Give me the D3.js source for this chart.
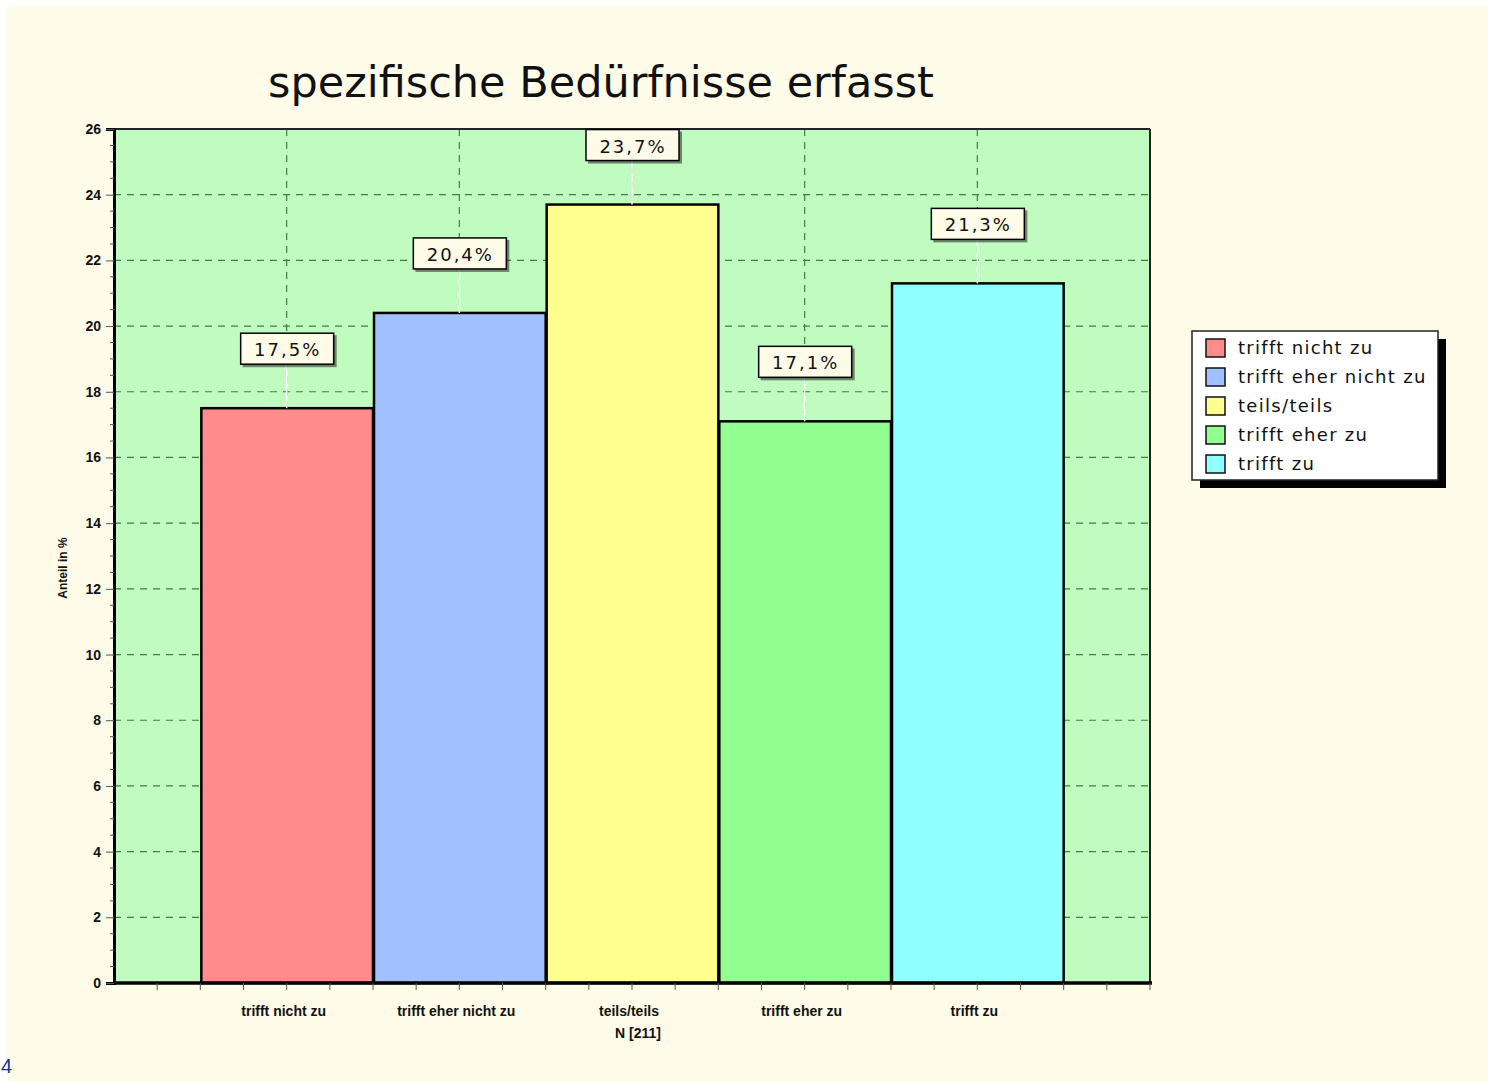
<!DOCTYPE html>
<html><head><meta charset="utf-8">
<script src="https://cdn.jsdelivr.net/npm/d3@7"></script>
<style>
html,body{margin:0;padding:0;background:#ffffff;}
svg{display:block;}
</style></head>
<body>
<script>
const title = "spezifische Bedürfnisse erfasst";
const categories = ["trifft nicht zu","trifft eher nicht zu","teils/teils","trifft eher zu","trifft zu"];
const values = [17.5, 20.4, 23.7, 17.1, 21.3];
const labels = ["17,5%","20,4%","23,7%","17,1%","21,3%"];
const colors = ["#ff8c8c","#a0c0ff","#ffff90","#90ff90","#90ffff"];
const yTicks = [0,2,4,6,8,10,12,14,16,18,20,22,24,26];
const yLabel = "Anteil in %";
const nLabel = "N [211]";

const W = 1488, H = 1081;
const m = {left:114, right:1150, top:129, bottom:983};

const svg = d3.select("body").append("svg").attr("width",W).attr("height",H);
svg.append("rect").attr("x",7).attr("y",6).attr("width",W-7).attr("height",H-6).attr("fill","#fefce9");

const x = d3.scaleBand().domain(categories).range([m.left,m.right]).paddingInner(0).paddingOuter(0.5);
const y = d3.scaleLinear().domain([0,26]).range([m.bottom,m.top]);

// plot bg
svg.append("rect").attr("x",m.left).attr("y",m.top).attr("width",m.right-m.left).attr("height",m.bottom-m.top).attr("fill","#c0fcc0");

// gridlines
const g = svg.append("g");
g.selectAll("line.h").data(yTicks.filter(d=>d>0)).join("line")
 .attr("x1",m.left).attr("x2",m.right).attr("y1",d=>y(d)).attr("y2",d=>y(d))
 .attr("stroke","#3f7f3f").attr("stroke-width",1.2).attr("stroke-dasharray","7,6");
g.selectAll("line.v").data(categories).join("line")
 .attr("x1",d=>x(d)+x.bandwidth()/2).attr("x2",d=>x(d)+x.bandwidth()/2)
 .attr("y1",m.top).attr("y2",m.bottom)
 .attr("stroke","#3f7f3f").attr("stroke-width",1.2).attr("stroke-dasharray","7,6");

// bars
svg.selectAll("rect.bar").data(values).join("rect")
 .attr("x",(d,i)=>x(categories[i])+1).attr("width",x.bandwidth()-1)
 .attr("y",d=>y(d)).attr("height",d=>m.bottom-y(d))
 .attr("fill",(d,i)=>colors[i]).attr("stroke","#000").attr("stroke-width",2.5);

// plot border top/right
svg.append("line").attr("x1",m.left).attr("x2",m.right).attr("y1",m.top).attr("y2",m.top).attr("stroke","#222").attr("stroke-width",2);
svg.append("line").attr("x1",m.right).attr("x2",m.right).attr("y1",m.top).attr("y2",m.bottom).attr("stroke","#222").attr("stroke-width",2);

// y axis
const yAxis = d3.axisLeft(y).tickValues(yTicks).tickSize(8).tickPadding(5);
const ya = svg.append("g").attr("transform",`translate(${m.left},0)`).call(yAxis);
ya.select(".domain").attr("stroke","#000").attr("stroke-width",3);
ya.selectAll(".tick line").attr("stroke","#555");
ya.selectAll(".tick text").attr("font-family","Liberation Sans, Arial, sans-serif").attr("font-size",14).attr("font-weight","bold").attr("fill","#111");
// minor y ticks
const minorY = d3.range(0,26.01,0.5).filter(v=>v%2!==0);
svg.append("g").selectAll("line").data(minorY).join("line")
 .attr("x1",m.left-4).attr("x2",m.left).attr("y1",d=>y(d)).attr("y2",d=>y(d)).attr("stroke","#555");

// x axis
svg.append("line").attr("x1",m.left).attr("x2",m.right+2).attr("y1",m.bottom).attr("y2",m.bottom).attr("stroke","#000").attr("stroke-width",3.5);
const step = x.step()/4;
const xt = d3.range(m.left+step, m.right, step);
svg.append("g").selectAll("line").data(xt).join("line")
 .attr("x1",d=>d).attr("x2",d=>d).attr("y1",m.bottom).attr("y2",m.bottom+7).attr("stroke","#555");

svg.append("g").selectAll("text").data(categories).join("text")
 .attr("x",d=>x(d)+x.bandwidth()/2 - 3).attr("y",1016)
 .attr("text-anchor","middle").attr("font-family","Liberation Sans, Arial, sans-serif")
 .attr("font-size",14).attr("font-weight","bold").attr("fill","#111").text(d=>d);
svg.append("text").attr("x",x(categories[2])+x.bandwidth()/2+6).attr("y",1038)
 .attr("text-anchor","middle").attr("font-family","Liberation Sans, Arial, sans-serif")
 .attr("font-size",14).attr("font-weight","bold").attr("fill","#111").text(nLabel);

// y label
svg.append("text").attr("transform",`translate(67,568) rotate(-90)`).attr("text-anchor","middle")
 .attr("font-family","Liberation Sans, Arial, sans-serif").attr("font-size",12).attr("font-weight","bold").attr("fill","#111").text(yLabel);

// value labels
const lab = svg.append("g").selectAll("g").data(values).join("g")
 .attr("transform",(d,i)=>`translate(${x(categories[i])+x.bandwidth()/2},${y(d)})`);
lab.append("line").attr("x1",0).attr("x2",0).attr("y1",0).attr("y2",-44).attr("stroke","#ffffff").attr("stroke-width",1.5);
lab.append("rect").attr("x",-44).attr("y",-73).attr("width",94).attr("height",32).attr("fill","#333").attr("opacity",0.6);
lab.append("rect").attr("x",-46).attr("y",-75).attr("width",93).attr("height",31).attr("fill","#fefce9").attr("stroke","#000").attr("stroke-width",1.5);
lab.append("text").attr("x",1).attr("y",-52).attr("text-anchor","middle")
 .attr("font-family","DejaVu Sans, Verdana, sans-serif").attr("font-size",18).attr("letter-spacing",2).attr("fill","#111")
 .text((d,i)=>labels[i]);

// title
svg.append("text").attr("x",601).attr("y",97).attr("text-anchor","middle")
 .attr("font-family","DejaVu Sans, Verdana, sans-serif").attr("font-size",43).attr("fill","#111").text(title);

// legend
const L = {x:1192,y:331,w:246,h:149};
svg.append("rect").attr("x",L.x+8).attr("y",L.y+8).attr("width",L.w).attr("height",L.h).attr("fill","#000");
svg.append("rect").attr("x",L.x).attr("y",L.y).attr("width",L.w).attr("height",L.h).attr("fill","#fff").attr("stroke","#222").attr("stroke-width",1.5);
const li = svg.append("g").selectAll("g").data(categories).join("g")
 .attr("transform",(d,i)=>`translate(${L.x+14},${L.y+8+i*29})`);
li.append("rect").attr("width",19).attr("height",18).attr("fill",(d,i)=>colors[i]).attr("stroke","#111").attr("stroke-width",1.5);
li.append("text").attr("x",32).attr("y",15).attr("font-family","DejaVu Sans, Verdana, sans-serif").attr("font-size",18).attr("letter-spacing",1.3).attr("fill","#111").text(d=>d);

// corner number
svg.append("text").attr("x",1).attr("y",1073).attr("font-family","Liberation Sans, Arial, sans-serif").attr("font-size",20).attr("fill","#1c2fa0").text("4");
</script>
</body></html>
